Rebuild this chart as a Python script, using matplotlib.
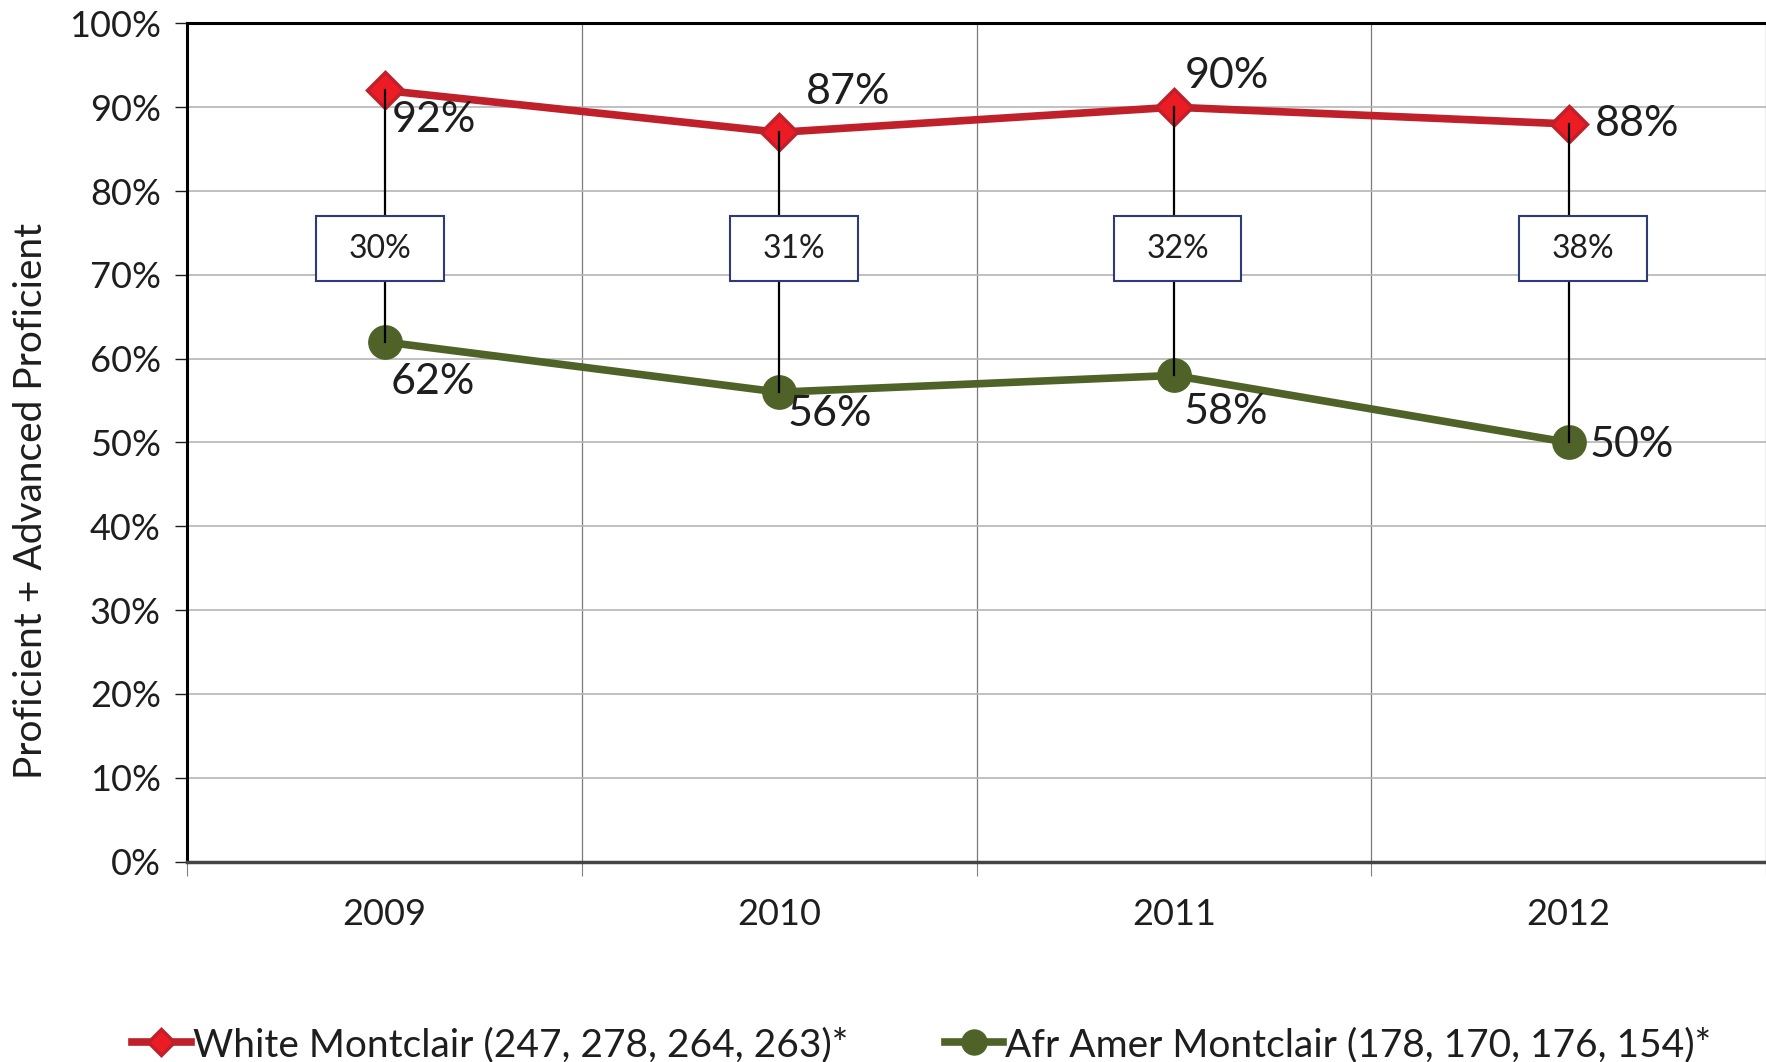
import matplotlib
matplotlib.use("Agg")
import matplotlib.pyplot as plt
from matplotlib.patches import Rectangle
from matplotlib.ticker import FixedLocator, PercentFormatter

plt.rcParams["font.family"] = ["Lato", "DejaVu Sans"]

years = ["2009", "2010", "2011", "2012"]
white = [92, 87, 90, 88]
afr_amer = [62, 56, 58, 50]
gaps = [30, 31, 32, 38]
white_label = "White Montclair (247, 278, 264, 263)*"
afr_label = "Afr Amer Montclair (178, 170, 176, 154)*"

red = "#c0202a"
red_fill = "#ed1c24"
green = "#4f6228"
navy = "#2e3b78"
txt = "#1e1e1e"

# label offsets in pixels (dx, dy)
white_off = [(7, -30), (27, 40), (11, 31), (26, 0)]
afr_off = [(6, -40), (8, -22), (10, -37), (21, -3)]
box_dx = [-0.011, 0.038, 0.009, 0.037]

fig = plt.figure(figsize=(17.66, 10.62), dpi=100)
ax = fig.add_axes([0.106, 0.1887, 0.894, 0.7893])

x = list(range(len(years)))

ax.plot(x, white, color=red, lw=5.5, marker="D", ms=18, mfc=red_fill,
        mec=red, mew=2.5, label=white_label, zorder=3)
ax.plot(x, afr_amer, color=green, lw=5.5, marker="o", ms=24, mfc=green,
        mec=green, label=afr_label, zorder=3)

# connector lines between the two series, drawn over the markers
for i in x:
    ax.plot([i, i], [white[i], afr_amer[i]], color="black", lw=1.6, zorder=4)

for i in x:
    ax.annotate(f"{white[i]}%", (i, white[i]), xytext=white_off[i],
                textcoords="offset pixels", ha="left", va="center",
                fontsize=31, color=txt, zorder=6)
    ax.annotate(f"{afr_amer[i]}%", (i, afr_amer[i]), xytext=afr_off[i],
                textcoords="offset pixels", ha="left", va="center",
                fontsize=31, color=txt, zorder=6)
    cx = i + box_dx[i]
    ax.add_patch(Rectangle((cx - 0.162, 69.3), 0.324, 7.7, facecolor="white",
                           edgecolor=navy, lw=1.5, zorder=5))
    ax.text(cx, 73.1, f"{gaps[i]}%", ha="center", va="center", fontsize=23,
            color=txt, zorder=6)

ax.set_xlim(-0.5, 3.5)
ax.set_ylim(0, 100)

ax.yaxis.set_major_locator(FixedLocator(range(0, 101, 10)))
ax.yaxis.set_major_formatter(PercentFormatter(decimals=0))
ax.tick_params(axis="y", direction="out", length=9, width=1, labelsize=26,
               pad=10, colors=txt)

ax.xaxis.set_major_locator(FixedLocator([-0.5, 0.5, 1.5, 2.5, 3.5]))
ax.xaxis.set_minor_locator(FixedLocator(x))
ax.xaxis.set_major_formatter(plt.NullFormatter())
ax.set_xticklabels(years, minor=True)
ax.tick_params(axis="x", which="major", direction="out", length=10, width=0.8,
               color="#808080")
ax.tick_params(axis="x", which="minor", length=0, labelsize=26, pad=26,
               labelcolor=txt)

ax.grid(axis="y", color="#b5b5b5", lw=1.2)
ax.grid(axis="x", which="major", color="#7a7a7a", lw=0.9)
ax.set_axisbelow(True)

ax.spines["top"].set_linewidth(2.2)
ax.spines["left"].set_linewidth(2.2)
ax.spines["bottom"].set_linewidth(2.5)
ax.spines["bottom"].set_color("#444444")
ax.spines["right"].set_visible(False)

ax.set_ylabel("Proficient + Advanced Proficient", fontsize=28, color=txt,
              va="center")
ax.yaxis.set_label_coords(-0.099, 0.43)

fig.legend(loc="lower center", bbox_to_anchor=(0.522, -0.034), ncol=2,
           frameon=False, fontsize=28, handlelength=1.5, handletextpad=0.05,
           columnspacing=2.5, labelcolor=txt, markerscale=0.75)

fig.savefig("out.png", dpi=100)
